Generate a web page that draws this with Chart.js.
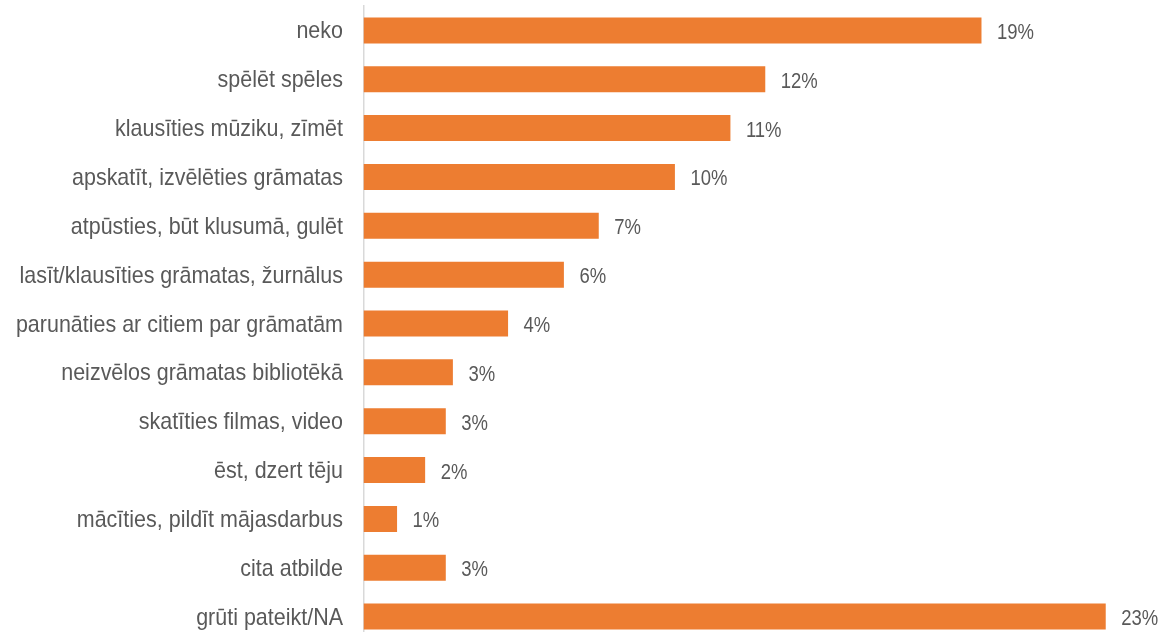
<!DOCTYPE html>
<html>
<head>
<meta charset="utf-8">
<script src="https://cdn.jsdelivr.net/npm/chart.js@4.4.1/dist/chart.umd.min.js"></script>
<style>
  html, body { margin: 0; padding: 0; background: #ffffff; overflow: hidden; }
  #wrap { position: relative; width: 1165px; height: 641px; }
</style>
</head>
<body>
<div id="wrap"><canvas id="c"></canvas></div>
<script>
const categories = [
  "neko",
  "spēlēt spēles",
  "klausīties mūziku, zīmēt",
  "apskatīt, izvēlēties grāmatas",
  "atpūsties, būt klusumā, gulēt",
  "lasīt/klausīties grāmatas, žurnālus",
  "parunāties ar citiem par grāmatām",
  "neizvēlos grāmatas bibliotēkā",
  "skatīties filmas, video",
  "ēst, dzert tēju",
  "mācīties, pildīt mājasdarbus",
  "cita atbilde",
  "grūti pateikt/NA"
];
const values = [19.15, 12.45, 11.37, 9.65, 7.29, 6.21, 4.48, 2.77, 2.55, 1.91, 1.04, 2.55, 23.0];
const valueLabels = ["19%", "12%", "11%", "10%", "7%", "6%", "4%", "3%", "3%", "2%", "1%", "3%", "23%"];

const family = '"Liberation Sans", Arial, sans-serif';
const textColor = '#595959';

// condensed text drawing (narrow sans look)
function drawNarrow(ctx, text, x, y, size, sx, align) {
  ctx.save();
  ctx.translate(x, y);
  ctx.scale(sx, 1);
  ctx.font = size + 'px ' + family;
  ctx.fillStyle = textColor;
  ctx.textAlign = align;
  ctx.textBaseline = 'alphabetic';
  ctx.fillText(text, 0, 0);
  ctx.restore();
}

const textPlugin = {
  id: 'narrowText',
  afterDatasetsDraw(chart) {
    const ctx = chart.ctx;
    const yScale = chart.scales.y;
    // category labels, positioned by the category scale
    yScale.ticks.forEach((t, i) => {
      const y = yScale.getPixelForTick(i);
      drawNarrow(ctx, chart.data.labels[t.value], yScale.right - 20.5, y + 8, 24, 0.895, 'right');
    });
    // value labels after each bar end
    const meta = chart.getDatasetMeta(0);
    meta.data.forEach((bar, i) => {
      drawNarrow(ctx, valueLabels[i], bar.x + 15.5, bar.y + 8.5, 21.5, 0.86, 'left');
    });
  }
};

new Chart(document.getElementById('c'), {
  type: 'bar',
  data: {
    labels: categories,
    datasets: [{
      data: values,
      backgroundColor: '#ED7D31',
      borderWidth: 0,
      barPercentage: 0.532,
      categoryPercentage: 1.0
    }]
  },
  options: {
    indexAxis: 'y',
    responsive: true,
    maintainAspectRatio: false,
    animation: false,
    layout: { padding: { left: 0, right: 27, top: 6, bottom: 0 } },
    plugins: {
      legend: { display: false },
      tooltip: { enabled: false }
    },
    scales: {
      x: {
        display: false,
        min: 0,
        max: 24
      },
      y: {
        grid: { display: false, drawTicks: false },
        border: { display: true, color: '#D9D9D9', width: 1.5 },
        ticks: { display: false },
        afterFit(scale) {
          scale.width = 363.5;
          scale.paddingTop = 0;
          scale.paddingBottom = 0;
        }
      }
    }
  },
  plugins: [textPlugin]
});
</script>
</body>
</html>
